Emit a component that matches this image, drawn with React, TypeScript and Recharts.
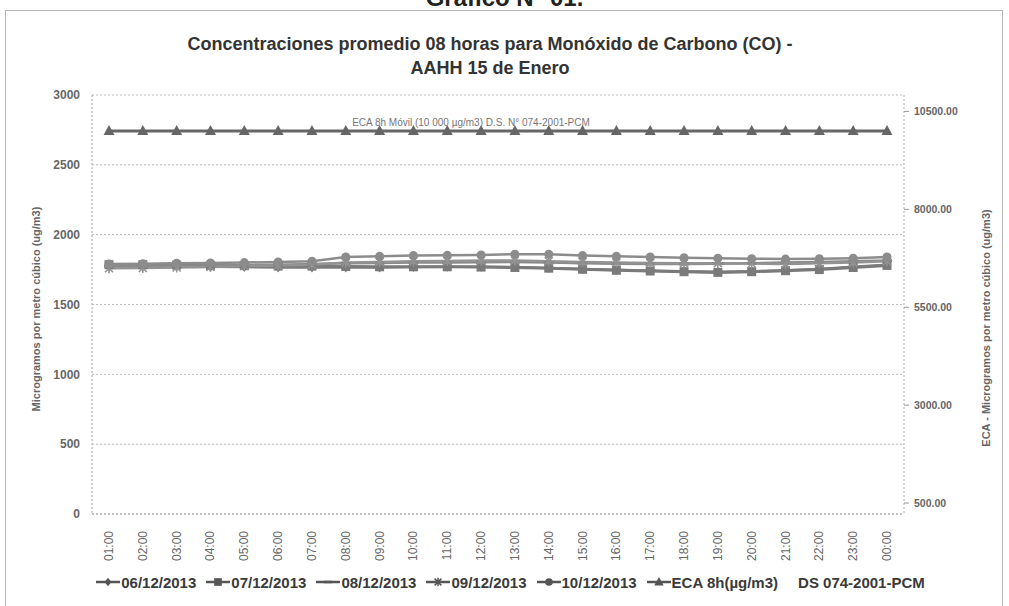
import React from "react";
import {
  LineChart,
  Line,
  XAxis,
  YAxis,
  CartesianGrid,
  Legend,
  ReferenceLine,
} from "recharts";

// hourly 8h moving averages of CO (ug/m3), one array per sampling day
const hours = [
  "01:00", "02:00", "03:00", "04:00", "05:00", "06:00", "07:00", "08:00",
  "09:00", "10:00", "11:00", "12:00", "13:00", "14:00", "15:00", "16:00",
  "17:00", "18:00", "19:00", "20:00", "21:00", "22:00", "23:00", "00:00",
];
const dia0612 = [
  1770, 1772, 1772, 1770, 1768, 1765, 1765, 1765, 1765, 1768, 1770, 1770,
  1768, 1762, 1755, 1748, 1742, 1738, 1735, 1738, 1745, 1755, 1770, 1785,
];
const dia0712 = [
  1785, 1785, 1782, 1780, 1778, 1775, 1775, 1772, 1770, 1770, 1770, 1768,
  1765, 1760, 1752, 1745, 1740, 1735, 1730, 1735, 1742, 1750, 1765, 1780,
];
const dia0812 = [
  1775, 1775, 1778, 1780, 1782, 1785, 1790, 1795, 1798, 1800, 1800, 1802,
  1805, 1800, 1795, 1792, 1790, 1790, 1792, 1795, 1800, 1805, 1810, 1815,
];
const dia0912 = [
  1760, 1762, 1765, 1768, 1775, 1780, 1785, 1800, 1805, 1810, 1812, 1815,
  1815, 1810, 1805, 1800, 1798, 1795, 1795, 1793, 1790, 1795, 1800, 1810,
];
const dia1012 = [
  1790, 1792, 1795, 1797, 1800, 1805, 1810, 1840, 1845, 1850, 1852, 1855,
  1860, 1860, 1850, 1845, 1840, 1835, 1832, 1828, 1825, 1828, 1832, 1840,
];
// ECA 8h limit, plotted on the secondary axis
const ecaLimite = [
  10000, 10000, 10000, 10000, 10000, 10000, 10000, 10000, 10000, 10000,
  10000, 10000, 10000, 10000, 10000, 10000, 10000, 10000, 10000, 10000,
  10000, 10000, 10000, 10000,
];
const ticksIzq = [0, 500, 1000, 1500, 2000, 2500, 3000];
const ticksDer = [500, 3000, 5500, 8000, 10500];
const dominioDer = [220, 10920];

const data = hours.map((hora, i) => ({
  hora,
  d0612: dia0612[i],
  d0712: dia0712[i],
  d0812: dia0812[i],
  d0912: dia0912[i],
  d1012: dia1012[i],
  eca: ecaLimite[i],
}));

type Shape = "diamond" | "square" | "dash" | "star" | "circle" | "triangle";

const series: { key: string; name: string; shape: Shape; color: string; width: number }[] = [
  { key: "d0612", name: "06/12/2013", shape: "diamond", color: "#7e7e7e", width: 2.5 },
  { key: "d0712", name: "07/12/2013", shape: "square", color: "#7a7a7a", width: 3 },
  { key: "d0812", name: "08/12/2013", shape: "dash", color: "#8a8a8a", width: 2.5 },
  { key: "d0912", name: "09/12/2013", shape: "star", color: "#939393", width: 2.5 },
  { key: "d1012", name: "10/12/2013", shape: "circle", color: "#8c8c8c", width: 2.5 },
];

const FONT = "'Liberation Sans', Arial, sans-serif";

const Marker = ({ cx, cy, shape, color, s = 1 }: { cx: number; cy: number; shape: Shape; color: string; s?: number }) => {
  switch (shape) {
    case "diamond":
      return <path d={`M${cx},${cy - 5 * s}L${cx + 4 * s},${cy}L${cx},${cy + 5 * s}L${cx - 4 * s},${cy}Z`} fill={color} />;
    case "square":
      return <rect x={cx - 4.5 * s} y={cy - 4.5 * s} width={9 * s} height={9 * s} fill={color} />;
    case "dash":
      return <rect x={cx - 5 * s} y={cy - 1.5 * s} width={10 * s} height={3 * s} fill={color} />;
    case "star":
      return (
        <path
          d={`M${cx - 4 * s},${cy - 4 * s}L${cx + 4 * s},${cy + 4 * s}M${cx + 4 * s},${cy - 4 * s}L${cx - 4 * s},${cy + 4 * s}M${cx},${cy - 5 * s}L${cx},${cy + 5 * s}`}
          stroke={color}
          strokeWidth={1.5}
        />
      );
    case "circle":
      return <circle cx={cx} cy={cy} r={4.5 * s} fill={color} />;
    case "triangle":
      return <path d={`M${cx},${cy - 6 * s}L${cx + 5.5 * s},${cy + 4 * s}L${cx - 5.5 * s},${cy + 4 * s}Z`} fill={color} />;
  }
  return null;
};

const HourTick = ({ x, y, payload }: any) => (
  <text
    x={x}
    y={y + 9}
    transform={`rotate(-90, ${x}, ${y + 9})`}
    textAnchor="end"
    dominantBaseline="central"
    fontSize={12}
    fontFamily={FONT}
    fill="#666"
  >
    {payload.value}
  </text>
);

const LegendIcon = ({ shape, color }: { shape: Shape; color: string }) => (
  <svg width={24} height={14} style={{ display: "block" }}>
    <line x1={0} y1={7} x2={24} y2={7} stroke={color} strokeWidth={2.5} />
    <Marker cx={12} cy={7} shape={shape} color={color} s={0.85} />
  </svg>
);

const LegendRow = () => (
  <div
    style={{
      display: "flex",
      justifyContent: "center",
      alignItems: "center",
      height: 22,
      gap: 10,
      paddingLeft: 12,
      fontFamily: FONT,
      fontWeight: 700,
      fontSize: 15,
      color: "#3a3a3a",
      whiteSpace: "nowrap",
    }}
  >
    {series.map((s) => (
      <span key={s.key} style={{ display: "flex", alignItems: "center", gap: 1 }}>
        <LegendIcon shape={s.shape} color="#555" />
        {s.name}
      </span>
    ))}
    <span style={{ display: "flex", alignItems: "center", gap: 1 }}>
      <LegendIcon shape="triangle" color="#555" />
      ECA 8h(µg/m3)
    </span>
    <span style={{ marginLeft: 10 }}>DS 074-2001-PCM</span>
  </div>
);

export default function App() {
  return (
    <div style={{ position: "absolute", left: 0, top: 0, width: 1009, height: 606, overflow: "hidden", background: "#fff" }}>
      <div
        style={{
          position: "absolute",
          left: 0,
          width: 1009,
          top: -14,
          textAlign: "center",
          fontFamily: FONT,
          fontWeight: 700,
          fontSize: 24,
          lineHeight: "24px",
          color: "#222",
        }}
      >
        Gráfico N° 01.
      </div>
      <div
        style={{
          position: "absolute",
          left: 5,
          top: 10,
          width: 998,
          height: 620,
          border: "1px solid #b5b5b5",
          boxSizing: "border-box",
        }}
      />
      <div
        style={{
          position: "absolute",
          left: 100,
          width: 780,
          top: 32,
          textAlign: "center",
          fontFamily: FONT,
          fontWeight: 700,
          fontSize: 18,
          lineHeight: "24px",
          color: "#333",
        }}
      >
        Concentraciones promedio 08 horas para Monóxido de Carbono (CO) -
        <br />
        AAHH 15 de Enero
      </div>
      <div
        style={{
          position: "absolute",
          left: 36,
          top: 309,
          transform: "translate(-50%, -50%) rotate(-90deg)",
          whiteSpace: "nowrap",
          fontFamily: FONT,
          fontWeight: 700,
          fontSize: 11,
          color: "#666",
        }}
      >
        Microgramos por metro cúbico (ug/m3)
      </div>
      <div
        style={{
          position: "absolute",
          left: 986,
          top: 328,
          transform: "translate(-50%, -50%) rotate(-90deg)",
          whiteSpace: "nowrap",
          fontFamily: FONT,
          fontWeight: 700,
          fontSize: 11,
          color: "#666",
        }}
      >
        ECA - Microgramos por metro cúbico (ug/m3)
      </div>
      <LineChart
        width={1009}
        height={606}
        data={data}
        margin={{ top: 95, right: 40, left: 40, bottom: 13 }}
        style={{ position: "absolute", left: 0, top: 0 }}
      >
        <CartesianGrid yAxisId="left" vertical={false} stroke="#b8b8b8" strokeDasharray="2 2" />
        <XAxis
          dataKey="hora"
          interval={0}
          height={57}
          padding={{ left: 17, right: 17 }}
          tick={<HourTick />}
          tickLine={false}
          axisLine={{ stroke: "#aaa", strokeDasharray: "2 2" }}
        />
        <YAxis
          yAxisId="left"
          domain={[0, 3000]}
          ticks={ticksIzq}
          width={52}
          tickLine={false}
          tickMargin={6}
          axisLine={{ stroke: "#aaa", strokeDasharray: "2 2" }}
          tick={{ fontSize: 12, fontFamily: FONT, fontWeight: 700, fill: "#666" }}
        />
        <YAxis
          yAxisId="right"
          orientation="right"
          domain={dominioDer}
          ticks={ticksDer}
          width={65}
          tickSize={5}
          tickMargin={5}
          tickLine={{ stroke: "#999" }}
          axisLine={{ stroke: "#aaa", strokeDasharray: "2 2" }}
          tickFormatter={(v: number) => v.toFixed(2)}
          tick={{ fontSize: 10.5, fontFamily: FONT, fontWeight: 700, fill: "#666", textAnchor: "start" }}
        />
        <ReferenceLine
          yAxisId="right"
          y={ecaLimite[0]}
          stroke="none"
          label={{
            value: "ECA 8h Móvil (10 000 µg/m3) D.S. N° 074-2001-PCM",
            position: "top",
            dx: -27,
            fill: "#777",
            fontSize: 10,
            fontFamily: FONT,
          }}
        />
        {series.map((s) => (
          <Line
            key={s.key}
            yAxisId="left"
            dataKey={s.key}
            name={s.name}
            stroke={s.color}
            strokeWidth={s.width}
            isAnimationActive={false}
            dot={(p: any) => <Marker key={`${s.key}-${p.index}`} cx={p.cx} cy={p.cy} shape={s.shape} color={s.color} />}
          />
        ))}
        <Line
          yAxisId="right"
          dataKey="eca"
          name="ECA 8h(µg/m3)"
          stroke="#666"
          strokeWidth={3}
          isAnimationActive={false}
          dot={(p: any) => <Marker key={`eca-${p.index}`} cx={p.cx} cy={p.cy} shape="triangle" color="#666" />}
        />
        <Legend verticalAlign="bottom" content={() => <LegendRow />} />
      </LineChart>
    </div>
  );
}
